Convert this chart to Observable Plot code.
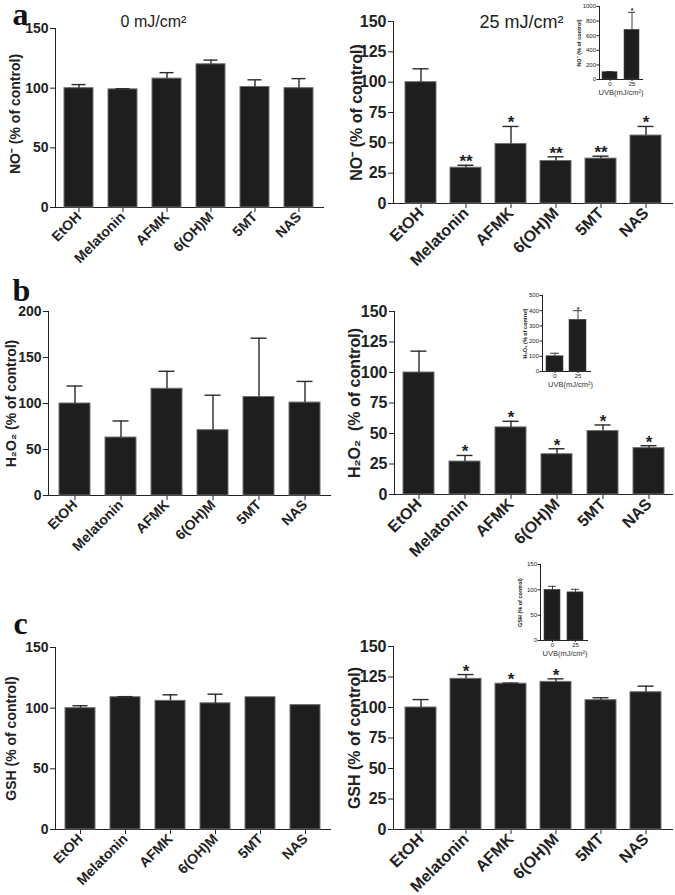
<!DOCTYPE html>
<html><head><meta charset="utf-8">
<script src="https://cdn.jsdelivr.net/npm/d3@7"></script>
<script src="https://cdn.jsdelivr.net/npm/@observablehq/plot@0.6"></script>
<style>
body{margin:0;background:#fff;}
#fig{position:relative;width:675px;height:895px;overflow:hidden;background:#fff;}
#fig svg{position:absolute;overflow:visible;}
</style></head><body><div id="fig"></div>
<script>
// ---------- data ----------
const categories = ["EtOH","Melatonin","AFMK","6(OH)M","5MT","NAS"];
const doses = ["0","25"];

// a: NO-
const no0 = [100, 99, 108, 120, 101, 100];
const no0Err = [3, 0.5, 5, 3.5, 6, 8];
const no25 = [100, 29.5, 49, 35, 37, 56];
const no25Err = [11, 2, 14.5, 3.5, 2, 7.5];
const no25Sig = ["", "**", "*", "**", "**", "*"];
const noInset = [100, 680];
const noInsetErr = [8, 240];
const noInsetSig = ["", "*"];

// b: H2O2
const h0 = [100, 63, 116, 71, 107, 101];
const h0Err = [19, 18, 19, 38, 64, 23];
const h25 = [100, 27, 55, 33, 52, 38];
const h25Err = [17.5, 5, 5, 4.5, 5, 2];
const h25Sig = ["", "*", "*", "*", "*", "*"];
const hInset = [100, 340];
const hInsetErr = [20, 60];
const hInsetSig = ["", "*"];

// c: GSH
const g0 = [100, 109, 106, 104, 109, 102.5];
const g0Err = [2, 0.5, 5, 7.5, 0, 0];
const g25 = [100, 123.5, 119.5, 121, 106, 112.5];
const g25Err = [6.5, 3.5, 0.5, 2.5, 2, 5];
const g25Sig = ["", "*", "*", "*", "", ""];
const gInset = [100, 95];
const gInsetErr = [7, 6];

const yTicks150 = [0, 50, 100, 150];
const yTicks150by25 = [0, 25, 50, 75, 100, 125, 150];
const yTicks200 = [0, 50, 100, 150, 200];
const yTicks1000 = [0, 200, 400, 600, 800, 1000];
const yTicks500 = [0, 100, 200, 300, 400, 500];

// ---------- drawing ----------
const fig = document.getElementById("fig");
const FONT = "'Liberation Sans', Arial, Helvetica, sans-serif";

function panel(o) {
  const cats = o.cats || categories;
  const data = cats.map((c, i) => ({c, v: o.values[i], e: o.errs[i], s: o.sig ? o.sig[i] : ""}));
  const withErr = data.filter(d => d.e > 0);
  const fs = o.fontSize;
  const marks = [
    Plot.barY(data, {x: "c", y: "v", fill: "#1e1e1e", stroke: o.inset ? "#444" : "#6e6e6e", strokeWidth: o.inset ? 0.6 : 1}),
    Plot.ruleX(withErr, {x: "c", y1: "v", y2: d => d.v + d.e, stroke: "#2a2a2a", strokeWidth: o.inset ? 0.9 : 1.4}),
    Plot.tickY(withErr, {x: "c", y: d => d.v + d.e, stroke: "#2a2a2a", strokeWidth: o.inset ? 0.9 : 1.4, insetLeft: o.capInset, insetRight: o.capInset}),
    Plot.text(data.filter(d => d.s), {x: "c", y: d => d.v + d.e, text: "s", lineAnchor: "bottom", dy: o.starDy, fontSize: o.starSize, fontWeight: "bold", fill: "#222"}),
    Plot.text([o.ylabel], {text: d => d, frameAnchor: "left", textAnchor: "middle", lineAnchor: "middle", dx: o.labelDx, dy: o.labelDy || 0, rotate: -90, fontSize: o.labelSize, fontWeight: "bold", fill: "#222"})
  ];
  if (o.extra) marks.push(...o.extra);
  const svg = Plot.plot({
    width: o.width, height: o.height,
    marginTop: o.mt, marginRight: o.mr, marginBottom: o.mb, marginLeft: o.ml,
    style: {fontFamily: FONT, fontSize: fs + "px", fontWeight: o.inset ? "normal" : "bold", color: "#222", background: "transparent", overflow: "visible"},
    x: {domain: cats, paddingInner: o.pi, paddingOuter: o.po, tickRotate: o.inset ? 0 : -45, tickSize: o.inset ? 2 : 5, tickPadding: o.inset ? 0.5 : 2, line: true, label: null},
    y: {domain: o.yDomain, ticks: o.yTicks, tickFormat: d3.format("d"), tickSize: o.inset ? 2.5 : 5, tickPadding: o.inset ? 1 : 2, line: true, label: null},
    marks
  });
  svg.style.left = o.left + "px";
  svg.style.top = o.top + "px";
  fig.appendChild(svg);
}

function letter(t, dx, dy) {
  return Plot.text([t], {text: d => d, frameAnchor: "top-left", dx, dy, textAnchor: "start", lineAnchor: "middle", fontSize: 32, fontWeight: "bold", fontFamily: "'Liberation Serif', 'Times New Roman', serif", fill: "#111"});
}
function title(t, dx, dy, size) {
  return Plot.text([t], {text: d => d, frameAnchor: "top-left", dx, dy, textAnchor: "middle", lineAnchor: "middle", fontSize: size, fontWeight: "normal", fill: "#222"});
}
function uvb(dx, dy) {
  return Plot.text(["UVB(mJ/cm²)"], {text: d => d, frameAnchor: "bottom", textAnchor: "middle", dx, dy, lineAnchor: "middle", fontSize: 7.5, fontWeight: "normal", fill: "#333"});
}

// Row a
panel({values: no0, errs: no0Err, left: 0, top: 0, width: 335, height: 290, mt: 28, mb: 83, ml: 55, mr: 12,
  pi: 0.33, po: 0.17, fontSize: 14, yDomain: [0, 150], yTicks: yTicks150, capInset: 7.5,
  ylabel: "NO⁻ (% of control)", labelDx: -40, labelDy: -4, labelSize: 14, starDy: 1, starSize: 16,
  extra: [letter("a", -43, -14), title("0 mJ/cm²", 98, -7, 16)]});
panel({values: no25, errs: no25Err, sig: no25Sig, left: 335, top: 0, width: 340, height: 290, mt: 21, mb: 87, ml: 58, mr: 3,
  pi: 0.32, po: 0.22, fontSize: 16, yDomain: [0, 150], yTicks: yTicks150by25, capInset: 7.5,
  ylabel: "NO⁻ (% of control)", labelDx: -37, labelSize: 16, starDy: 2, starSize: 17,
  extra: [title("25 mJ/cm²", 128, 0.5, 18)]});
panel({cats: doses, inset: true, values: noInset, errs: noInsetErr, sig: noInsetSig, left: 560, top: 0, width: 110, height: 100, mt: 6, mb: 21, ml: 39, mr: 28,
  pi: 0.3, po: 0.085, fontSize: 6, yDomain: [0, 1000], yTicks: yTicks1000, capInset: 4,
  ylabel: "NO⁻ (% of control)", labelDx: -20, labelSize: 5.5, starDy: 1, starSize: 7,
  extra: [uvb(0, 13)]});

// Row b
panel({values: h0, errs: h0Err, left: 0, top: 290, width: 335, height: 300, mt: 21, mb: 95, ml: 48, mr: 5,
  pi: 0.33, po: 0.23, fontSize: 14, yDomain: [0, 200], yTicks: yTicks200, capInset: 7.5,
  ylabel: "H₂O₂ (% of control)", labelDx: -37, labelSize: 14, starDy: 1, starSize: 16,
  extra: [letter("b", -36, -21)]});
panel({values: h25, errs: h25Err, sig: h25Sig, left: 335, top: 290, width: 340, height: 300, mt: 21, mb: 96, ml: 59, mr: 3,
  pi: 0.33, po: 0.175, fontSize: 16, yDomain: [0, 150], yTicks: yTicks150by25, capInset: 7.5,
  ylabel: "H₂O₂  (% of control)", labelDx: -40, labelSize: 16, starDy: 2, starSize: 17});
panel({cats: doses, inset: true, values: hInset, errs: hInsetErr, sig: hInsetSig, left: 505, top: 285, width: 95, height: 105, mt: 10, mb: 19, ml: 37, mr: 10,
  pi: 0.28, po: 0.18, fontSize: 6, yDomain: [0, 500], yTicks: yTicks500, capInset: 4,
  ylabel: "H₂O₂ (% of control)", labelDx: -17, labelSize: 5.5, starDy: 1, starSize: 7,
  extra: [uvb(4, 13)]});

// Row c
panel({values: g0, errs: g0Err, left: 0, top: 590, width: 335, height: 305, mt: 57, mb: 66, ml: 55, mr: 5,
  pi: 0.33, po: 0.16, fontSize: 14, yDomain: [0, 150], yTicks: yTicks150, capInset: 7.5,
  ylabel: "GSH (% of control)", labelDx: -44, labelSize: 14, starDy: 1, starSize: 16,
  extra: [letter("c", -42, -23.5)]});
panel({values: g25, errs: g25Err, sig: g25Sig, left: 335, top: 590, width: 340, height: 305, mt: 56, mb: 66, ml: 58, mr: 3,
  pi: 0.32, po: 0.22, fontSize: 16, yDomain: [0, 150], yTicks: yTicks150by25, capInset: 7.5,
  ylabel: "GSH (% of control)", labelDx: -39, labelSize: 16, starDy: 2, starSize: 17});
panel({cats: doses, inset: true, values: gInset, errs: gInsetErr, left: 500, top: 555, width: 95, height: 105, mt: 9, mb: 20, ml: 40, mr: 8,
  pi: 0.29, po: 0.125, fontSize: 6, yDomain: [0, 150], yTicks: yTicks150, capInset: 4,
  ylabel: "GSH (% of control)", labelDx: -20, labelSize: 5.5, starDy: 1, starSize: 7,
  extra: [uvb(1, 13)]});
</script>
</body></html>
